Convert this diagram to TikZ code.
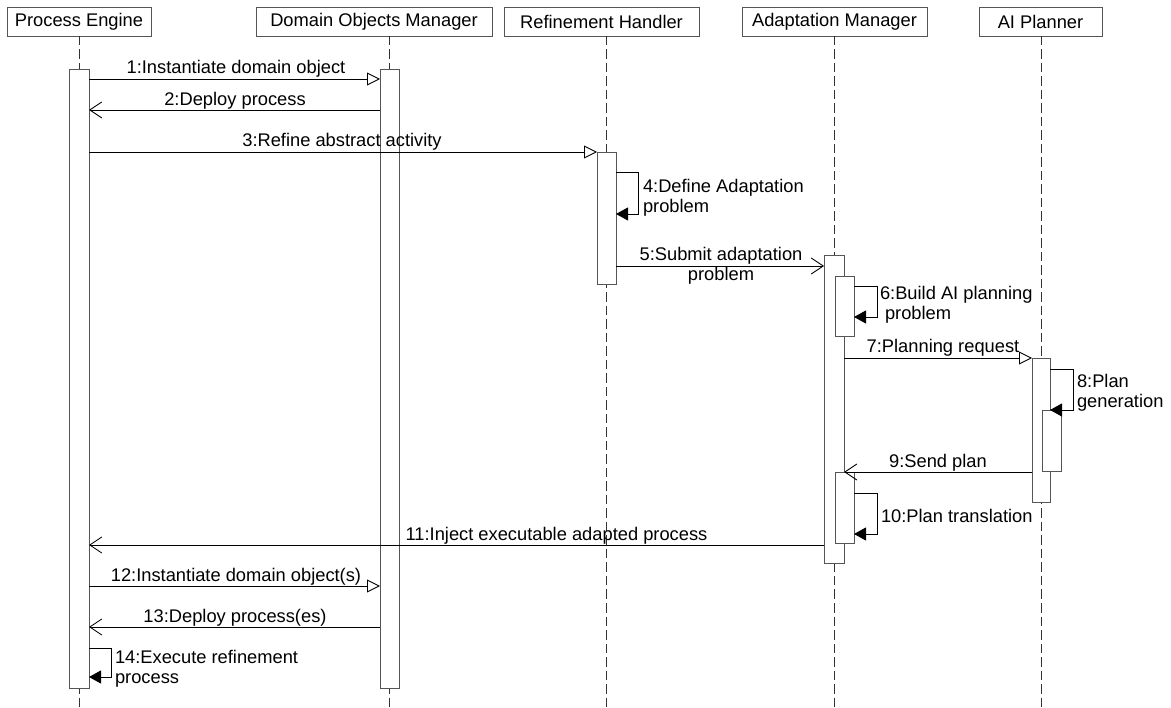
\documentclass[tikz,border=0pt]{standalone}
\usepackage{fontspec}
\setmainfont{Liberation Sans}
\usetikzlibrary{arrows.meta}
\definecolor{edge}{HTML}{555555}
\definecolor{dashcol}{HTML}{333333}
\newcommand{\twoline}[3][l]{\begin{tabular}[t]{@{}#1@{}}#2\\#3\end{tabular}}
\begin{document}
\begin{tikzpicture}[x=1pt,y=-1pt,
  every node/.style={font=\fontsize{18.3}{20}\selectfont, inner sep=0pt, outer sep=0pt},
  header/.style={draw=edge, line width=0.9pt, fill=white, minimum height=29pt, anchor=north west},
  life/.style={draw=dashcol, line width=0.9pt, dash pattern=on 9.5pt off 4pt},
  bar/.style={draw=edge, line width=0.9pt, fill=white},
  call/.style={draw=black, line width=0.9pt, -{Triangle[open, length=13pt, width=13pt]}},
  reply/.style={draw=black, line width=0.9pt, -{Straight Barb[length=12pt, width=16pt]}},
  selfcall/.style={draw=black, line width=0.9pt, -{Triangle[length=12pt, width=13pt]}},
  lbl/.style={anchor=base},
  lblw/.style={anchor=base west}
]
\useasboundingbox (0,0) rectangle (1171,708);

% participants
\node[header, minimum width=144pt] (pe) at (7,7) {Process Engine};
\node[header, minimum width=236pt] (dom) at (256,7) {Domain Objects Manager};
\node[header, minimum width=195pt] (rh) at (504,7) {Refinement Handler};
\node[header, minimum width=185pt] (am) at (742,7) {Adaptation Manager};
\node[header, minimum width=123pt] (ai) at (979,7) {AI Planner};

% lifelines
\coordinate (peEnd) at (79,708);
\coordinate (domEnd) at (389.5,708);
\coordinate (rhEnd) at (606.5,708);
\coordinate (amEnd) at (834,708);
\coordinate (aiEnd) at (1041,708);
\draw[life] (pe.south -| peEnd) -- (peEnd);
\draw[life] (dom.south -| domEnd) -- (domEnd);
\draw[life] (rh.south -| rhEnd) -- (rhEnd);
\draw[life] (am.south -| amEnd) -- (amEnd);
\draw[life] (ai.south -| aiEnd) -- (aiEnd);

% activation bars
\node[bar, minimum width=20pt, minimum height=619pt] (peBar) at (79,378.5) {};
\node[bar, minimum width=19.5pt, minimum height=619pt] (domBar) at (389.75,378.5) {};
\node[bar, minimum width=19pt, minimum height=132pt] (rhBar) at (606.5,218) {};
\node[bar, minimum width=20pt, minimum height=308pt] (amBar) at (834,409) {};
\node[bar, minimum width=19pt, minimum height=60pt] (amBuild) at (844.5,306) {};
\node[bar, minimum width=19pt, minimum height=71pt] (amTrans) at (844.5,507.5) {};
\node[bar, minimum width=18pt, minimum height=144pt] (aiBar) at (1041,430) {};
\node[bar, minimum width=19pt, minimum height=61pt] (aiGen) at (1051.5,440.5) {};

% messages
\draw[call] (peBar.east |- 0,79) -- (domBar.west |- 0,79);
\node[lbl] (l1) at (236,74) {1:Instantiate domain object};

\draw[reply] (domBar.west |- 0,110) -- (peBar.east |- 0,110);
\node[lbl] (l2) at (235,106) {2:Deploy process};

\draw[call] (peBar.east |- 0,152) -- (rhBar.west |- 0,152);
\node[lbl] (l3) at (342,147) {3:Refine abstract activity};

\draw[selfcall] (rhBar.east |- 0,172) -- ++(22,0) |- (rhBar.east |- 0,214);
\node[lblw] (l4) at (643,193) {\twoline{4:Define Adaptation}{problem}};

\draw[reply] (rhBar.east |- 0,266) -- (amBar.west |- 0,266);
\node[lbl] (l5) at (721,261) {\twoline[c]{5:Submit adaptation}{problem}};

\draw[selfcall] (amBuild.east |- 0,286) -- ++(23,0) |- (amBuild.east |- 0,317);
\node[lblw] (l6) at (880,300) {\twoline{6:Build AI planning}{\hspace{5pt}problem}};

\draw[call] (amBar.east |- 0,358) -- (aiBar.west |- 0,358);
\node[lbl] (l7) at (943,353) {7:Planning request};

\draw[selfcall] (aiBar.east |- 0,369) -- ++(23,0) |- (aiBar.east |- 0,410);
\node[lblw] (l8) at (1077,388) {\twoline{8:Plan}{generation}};

\draw[reply] (aiBar.west |- 0,472) -- (amBar.east |- 0,472);
\node[lbl] (l9) at (938,468) {9:Send plan};

\draw[selfcall] (amTrans.east |- 0,493) -- ++(23,0) |- (amTrans.east |- 0,534);
\node[lblw] (l10) at (881,522) {10:Plan translation};

\draw[reply] (amBar.west |- 0,545) -- (peBar.east |- 0,545);
\node[lbl] (l11) at (556.5,540) {11:Inject executable adapted process};

\draw[call] (peBar.east |- 0,586) -- (domBar.west |- 0,586);
\node[lbl] (l12) at (236,581) {12:Instantiate domain object(s)};

\draw[reply] (domBar.west |- 0,627) -- (peBar.east |- 0,627);
\node[lbl] (l13) at (235,623) {13:Deploy process(es)};

\draw[selfcall] (peBar.east |- 0,648) -- ++(22,0) |- (peBar.east |- 0,677);
\node[lblw] (l14) at (115,663) {\twoline{14:Execute refinement}{process}};
\end{tikzpicture}
\end{document}
